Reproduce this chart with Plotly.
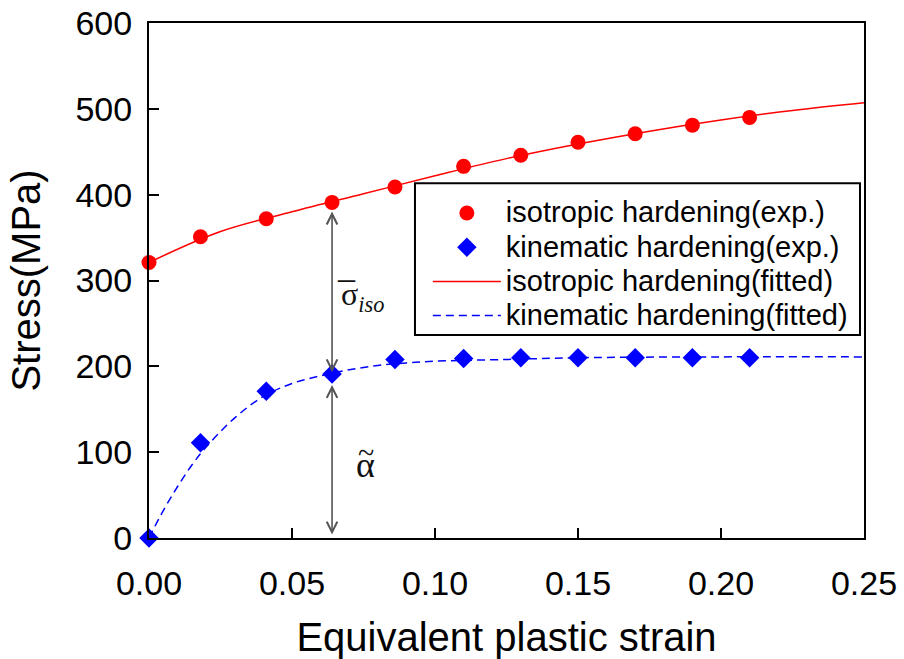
import plotly.graph_objects as go

# Experimental points
strain_exp = [0.0, 0.018, 0.041, 0.064, 0.086, 0.110, 0.130, 0.150, 0.170, 0.190, 0.210]
iso_exp = [321, 351, 372, 391, 409, 433, 446, 461, 471, 481, 490]
kin_exp = [0, 111, 171, 191, 208, 209, 210, 210, 210, 210, 210]

# Fitted curves
strain_iso_fit = [0.0, 0.025, 0.05, 0.075, 0.10, 0.125, 0.15, 0.175, 0.20, 0.225, 0.25]
iso_fit = [321, 357, 380, 401, 422, 442, 459, 474, 487, 498, 507]
strain_kin_fit = [0.0, 0.005, 0.01, 0.015, 0.02, 0.03, 0.04, 0.05, 0.06, 0.07, 0.08,
                  0.09, 0.10, 0.125, 0.15, 0.20, 0.25]
kin_fit = [0, 32, 60, 85, 106, 140, 165, 180, 189, 196, 201, 204, 206, 208, 210, 211, 211]

x_ticks = [0.0, 0.05, 0.10, 0.15, 0.20, 0.25]
y_ticks = [0, 100, 200, 300, 400, 500, 600]

# Component split at the marked strain
split_strain = 0.064
split_iso_top = 382
split_kin_top = 193
split_kin_low = 180
split_base = 4

SANS = "Liberation Sans, Arial, Helvetica, sans-serif"
SERIF = "Liberation Serif, Times New Roman, serif"


def legend_label(text):
    # larger glyphs than the legend's row height font
    return '<span style="font-size:29px">' + text + "</span>"


fig = go.Figure()
fig.add_trace(go.Scatter(x=strain_exp, y=iso_exp, mode="markers",
                         name=legend_label("isotropic hardening(exp.)"),
                         marker=dict(symbol="circle", size=15, color="#ff0000"),
                         cliponaxis=False))
fig.add_trace(go.Scatter(x=strain_exp, y=kin_exp, mode="markers",
                         name=legend_label("kinematic hardening(exp.)"),
                         marker=dict(symbol="diamond", size=15, color="#0000ff"),
                         cliponaxis=False))
fig.add_trace(go.Scatter(x=strain_iso_fit, y=iso_fit, mode="lines",
                         name=legend_label("isotropic hardening(fitted)"),
                         line=dict(color="#ff0000", width=1.5, shape="spline")))
fig.add_trace(go.Scatter(x=strain_kin_fit, y=kin_fit, mode="lines",
                         name=legend_label("kinematic hardening(fitted)"),
                         line=dict(color="#0000ff", width=1.5, dash="8px,5px", shape="spline")))

# Double-headed arrows marking the two stress components
for top, bottom in [(split_iso_top, split_kin_top), (split_kin_low, split_base)]:
    fig.add_annotation(x=split_strain, y=bottom, ax=split_strain, ay=top,
                       xref="x", yref="y", axref="x", ayref="y",
                       showarrow=True, arrowhead=5, startarrowhead=5,
                       arrowside="end+start", arrowsize=1.3, startarrowsize=1.3,
                       arrowwidth=1.6, arrowcolor="#555555", text="")

# Component labels: sigma-bar (iso) and alpha-tilde
fig.add_annotation(x=0.0663, y=281, xref="x", yref="y", xanchor="left",
                   showarrow=False, text="σ<sub><i>iso</i></sub>",
                   font=dict(family=SERIF, size=32, color="#111111"))
fig.add_annotation(x=0.0692, y=281, xref="x", yref="y", yshift=30,
                   showarrow=False, text="_",
                   font=dict(family=SERIF, size=34, color="#111111"))
fig.add_annotation(x=0.0758, y=85, xref="x", yref="y",
                   showarrow=False, text="α",
                   font=dict(family=SERIF, size=36, color="#111111"))
fig.add_annotation(x=0.0758, y=85, xref="x", yref="y", yshift=13,
                   showarrow=False, text="~",
                   font=dict(family=SERIF, size=30, color="#111111"))

# Legend frame
fig.add_shape(type="rect", xref="paper", yref="paper",
              x0=0.372, x1=0.9944, y0=0.394, y1=0.689,
              line=dict(color="black", width=2), fillcolor="white", layer="below")

fig.update_layout(
    width=904, height=659,
    margin=dict(l=149, r=40, t=23, b=121, autoexpand=False),
    paper_bgcolor="white", plot_bgcolor="white",
    font=dict(family=SANS, color="black"),
    showlegend=True,
    legend=dict(x=0.390, y=0.674, xanchor="left", yanchor="top",
                bgcolor="rgba(0,0,0,0)", borderwidth=0,
                font=dict(family=SANS, size=24, color="black"),
                itemwidth=68, tracegroupgap=0),
)
fig.update_xaxes(range=[0, 0.25], tickvals=x_ticks, tickformat=".2f",
                 automargin=False,
                 showgrid=False, zeroline=False,
                 showline=True, linecolor="black", linewidth=2, mirror=True,
                 ticks="inside", ticklen=10, tickwidth=2, tickcolor="black",
                 tickfont=dict(family=SANS, size=34, color="black"),
                 ticklabelstandoff=14,
                 title=dict(text="Equivalent plastic strain", standoff=24,
                            font=dict(family=SANS, size=40, color="black")))
fig.update_yaxes(range=[0, 600], tickvals=y_ticks,
                 automargin=False,
                 showgrid=False, zeroline=False,
                 showline=True, linecolor="black", linewidth=2, mirror=True,
                 ticks="inside", ticklen=10, tickwidth=2, tickcolor="black",
                 tickfont=dict(family=SANS, size=34, color="black"),
                 ticklabelstandoff=8,
                 title=dict(text="Stress(MPa)", standoff=22,
                            font=dict(family=SANS, size=40, color="black")))

fig.write_html("out.html")
